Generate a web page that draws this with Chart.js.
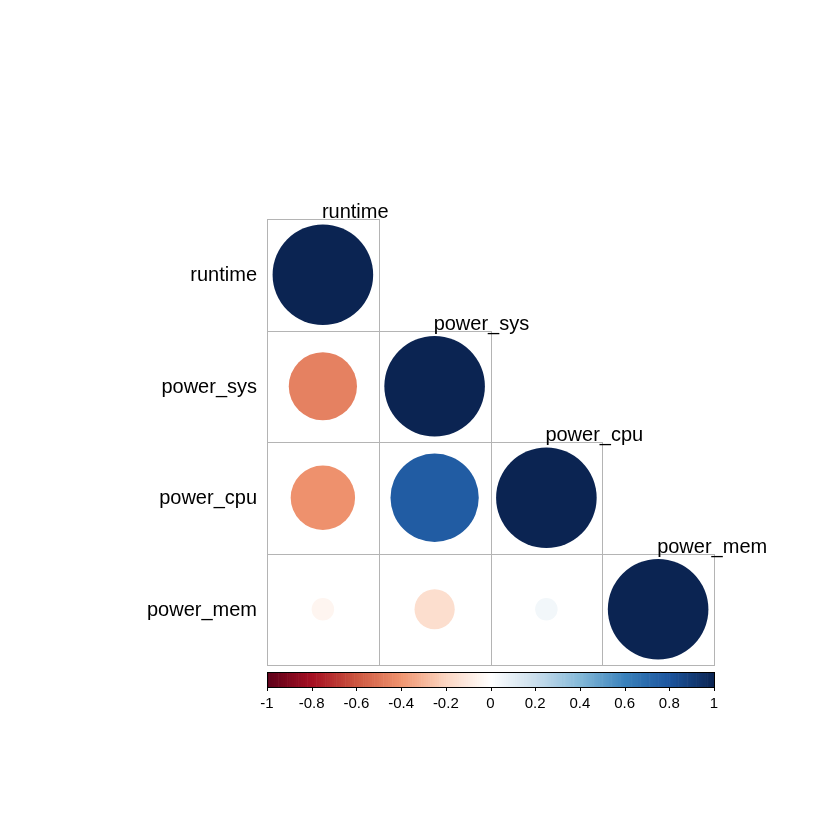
<!DOCTYPE html>
<html>
<head>
<meta charset="utf-8">
<script src="https://cdn.jsdelivr.net/npm/chart.js@4.4.0/dist/chart.umd.min.js"></script>
<style>
  html, body { margin: 0; padding: 0; background: #ffffff; }
  #wrap { width: 840px; height: 840px; }
</style>
</head>
<body>
<div id="wrap"><canvas id="c" width="840" height="840"></canvas></div>
<script>
// ---- data ----
const variables = ['runtime', 'power_sys', 'power_cpu', 'power_mem'];
// lower-triangle correlation rows (row i has i+1 values)
const corrRuntime  = [1];
const corrPowerSys = [-0.46, 1];
const corrPowerCpu = [-0.41, 0.77, 1];
const corrPowerMem = [-0.05, -0.16, 0.05, 1];
const colorbarTicks = [-1, -0.8, -0.6, -0.4, -0.2, 0, 0.2, 0.4, 0.6, 0.8, 1];
const colorbarTickLabels = ['-1', '-0.8', '-0.6', '-0.4', '-0.2', '0', '0.2', '0.4', '0.6', '0.8', '1'];
// RdBu-like palette stops from -1 to 1
const paletteStops = ['#5C0019', '#A50F22', '#CC5640', '#F0946F', '#FBD6C2', '#FFFFFF',
                      '#CADEEC', '#84B9D8', '#3A82BC', '#1C559E', '#0B2452'];

const corrRows = [corrRuntime, corrPowerSys, corrPowerCpu, corrPowerMem];

function hexToRgb(h) {
  return [parseInt(h.slice(1, 3), 16), parseInt(h.slice(3, 5), 16), parseInt(h.slice(5, 7), 16)];
}
function colorFor(v) {
  const n = paletteStops.length - 1;
  let t = (v + 1) / 2 * n;
  let i = Math.floor(t);
  if (i >= n) i = n - 1;
  if (i < 0) i = 0;
  const f = t - i;
  const a = hexToRgb(paletteStops[i]), b = hexToRgb(paletteStops[i + 1]);
  const c = a.map((x, k) => Math.round(x + (b[k] - x) * f));
  return 'rgb(' + c[0] + ',' + c[1] + ',' + c[2] + ')';
}

const points = [];
corrRows.forEach((row, i) => {
  row.forEach((v, j) => points.push({ x: j, y: i, v: v }));
});

const FONT = '"Liberation Sans", Arial, Helvetica, sans-serif';

function cellRadius(c) {
  if (!c.raw) return 0;
  const xs = c.chart.scales.x;
  const cell = Math.abs(xs.getPixelForValue(1) - xs.getPixelForValue(0));
  return 0.9 * Math.sqrt(Math.abs(c.raw.v)) / 2 * cell;
}

const corrPlugin = {
  id: 'corrDecor',
  beforeDatasetsDraw(chart) {
    const ctx = chart.ctx;
    const xs = chart.scales.x, ys = chart.scales.y;
    const n = variables.length;
    ctx.save();
    // grid cells
    ctx.strokeStyle = '#B4B4B4';
    ctx.lineWidth = 1;
    for (let i = 0; i < n; i++) {
      for (let j = 0; j <= i; j++) {
        const x0 = Math.round(xs.getPixelForValue(j - 0.5)), x1 = Math.round(xs.getPixelForValue(j + 0.5));
        const y0 = Math.round(ys.getPixelForValue(i - 0.5)), y1 = Math.round(ys.getPixelForValue(i + 0.5));
        ctx.strokeRect(x0 + 0.5, y0 + 0.5, x1 - x0, y1 - y0);
      }
    }
    // row labels
    ctx.fillStyle = '#000000';
    ctx.font = '20px ' + FONT;
    ctx.textAlign = 'right';
    ctx.textBaseline = 'middle';
    const left = xs.getPixelForValue(-0.5);
    variables.forEach((name, i) => {
      ctx.fillText(name, left - 10, ys.getPixelForValue(i) + 1);
    });
    // column labels, above diagonal cells
    ctx.textAlign = 'left';
    ctx.textBaseline = 'alphabetic';
    variables.forEach((name, j) => {
      ctx.fillText(name, xs.getPixelForValue(j) - 1, ys.getPixelForValue(j - 0.5) - 1);
    });
    // colorbar
    const cbLeft = Math.round(xs.getPixelForValue(-0.5)), cbRight = Math.round(xs.getPixelForValue(n - 0.5));
    const cbTop = Math.round(ys.getPixelForValue(n - 0.5)) + 7, cbBottom = cbTop + 15;
    const steps = 200;
    const w = (cbRight - cbLeft) / steps;
    for (let k = 0; k < steps; k++) {
      const v = -1 + (k + 0.5) * 2 / steps;
      ctx.fillStyle = colorFor(v);
      ctx.fillRect(cbLeft + k * w, cbTop, w + 0.6, cbBottom - cbTop);
    }
    ctx.strokeStyle = '#000000';
    ctx.lineWidth = 1;
    ctx.strokeRect(cbLeft + 0.5, cbTop + 0.5, cbRight - cbLeft, cbBottom - cbTop);
    ctx.fillStyle = '#000000';
    ctx.font = '15px ' + FONT;
    ctx.textAlign = 'center';
    ctx.textBaseline = 'middle';
    colorbarTicks.forEach((t, k) => {
      const px = cbLeft + (t + 1) / 2 * (cbRight - cbLeft);
      const tx = Math.round(px);
      ctx.beginPath();
      ctx.moveTo(tx + 0.5, cbBottom);
      ctx.lineTo(tx + 0.5, cbBottom + 4);
      ctx.stroke();
      ctx.fillText(colorbarTickLabels[k], px, cbBottom + 17);
    });
    ctx.restore();
  }
};

new Chart(document.getElementById('c'), {
  type: 'scatter',
  data: {
    datasets: [{
      data: points,
      pointStyle: 'circle',
      backgroundColor: (c) => c.raw ? colorFor(c.raw.v) : '#000',
      borderColor: (c) => c.raw ? colorFor(c.raw.v) : '#000',
      borderWidth: 0,
      pointRadius: cellRadius,
      pointHoverRadius: cellRadius
    }]
  },
  options: {
    responsive: false,
    animation: false,
    devicePixelRatio: 1,
    layout: { padding: { left: 267, right: 126, top: 219, bottom: 175 } },
    scales: {
      x: { type: 'linear', min: -0.5, max: 3.5, display: false },
      y: { type: 'linear', min: -0.5, max: 3.5, reverse: true, display: false }
    },
    plugins: {
      legend: { display: false },
      tooltip: { enabled: false }
    }
  },
  plugins: [corrPlugin]
});
</script>
</body>
</html>
